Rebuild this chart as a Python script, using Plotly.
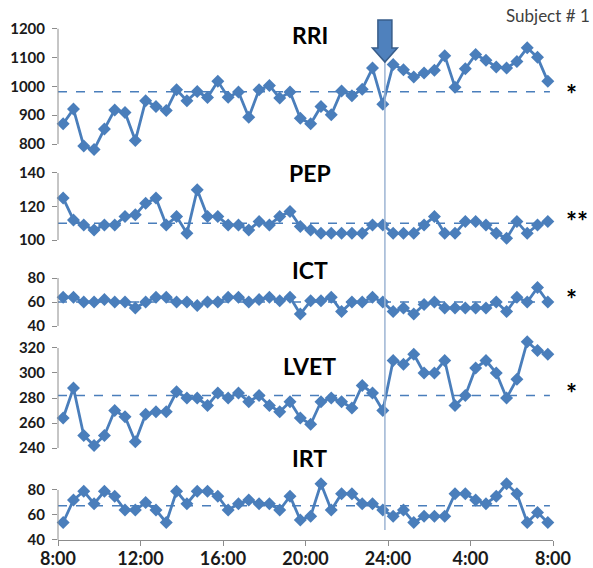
import plotly.graph_objects as go

# ---------------- data ----------------
rri = [870, 921, 793, 781, 852, 918, 909, 812, 950, 930, 916, 988, 950, 982, 961, 1017,
       962, 980, 893, 988, 1003, 959, 980, 889, 870, 930, 901, 984, 967, 990, 1063, 938,
       1075, 1057, 1032, 1046, 1055, 1106, 997, 1061, 1110, 1090, 1067, 1063, 1086, 1133, 1100, 1017]
pep = [125, 112, 109, 106, 109, 109, 114, 115, 122, 125, 109, 114, 104, 130, 114, 114,
       109, 109, 106, 111, 109, 114, 117, 108, 106, 104, 104, 104, 104, 104, 109, 109,
       104, 104, 104, 109, 114, 104, 104, 111, 111, 109, 104, 101, 111, 104, 109, 111]
ict = [64, 64, 60, 60, 62, 60, 60, 55, 60, 64, 64, 60, 60, 57, 60, 60,
       64, 64, 60, 62, 64, 61, 64, 50, 61, 61, 64, 52, 60, 60, 64, 60,
       52, 55, 50, 58, 60, 55, 55, 55, 55, 55, 60, 52, 64, 60, 72, 60]
lvet = [264, 288, 250, 242, 250, 270, 265, 245, 267, 269, 269, 285, 280, 280, 274, 284,
        280, 284, 277, 282, 274, 269, 277, 264, 259, 277, 280, 277, 272, 290, 284, 270,
        310, 307, 315, 300, 300, 310, 274, 282, 304, 310, 300, 280, 295, 325, 318, 315]
irt = [54, 72, 79, 69, 79, 75, 64, 64, 70, 64, 54, 79, 69, 79, 79, 75,
       64, 69, 72, 69, 69, 64, 75, 56, 59, 85, 64, 77, 77, 69, 69, 64,
       59, 64, 54, 59, 59, 59, 77, 77, 72, 69, 75, 85, 77, 54, 62, 54]

series_names = ["RRI", "PEP", "ICT", "LVET", "IRT"]
series_values = [rri, pep, ict, lvet, irt]
reference_means = [981, 110, 60, 282, 67.5]
significance = ["*", "**", "*", "*", ""]
y_tickvals = [[800, 900, 1000, 1100, 1200], [100, 120, 140], [40, 60, 80],
              [240, 260, 280, 300, 320], [40, 60, 80]]

# 48 half-hour slots from 8:00 to 8:00 (hours since midnight of day 1)
times = [8.25 + 0.5 * i for i in range(48)]
x_tickvals = [8, 12, 16, 20, 24, 28, 32]
x_ticktext = ["8:00", "12:00", "16:00", "20:00", "24:00", "4:00", "8:00"]
event_time = 23.85

# ---------------- styling / layout ----------------
BLUE = "#4A7EBB"
AXIS = "#8C8C8C"
FONT = "Lato"

y_ranges = [[770, 1200], [100, 140], [40, 80], [240, 330], [40, 90]]
y_domains = [[0.7448, 0.9837], [0.5769, 0.7058], [0.4115, 0.5038], [0.1769, 0.3933], [0.0, 0.1202]]
title_y = [0.971, 0.706, 0.519, 0.335, 0.158]
star_y = [0.858, 0.614, 0.464, 0.282, 0]

fig = go.Figure()
layout = dict(
    width=593, height=568,
    margin=dict(l=58, r=40, t=20, b=28, autoexpand=False),
    paper_bgcolor="white", plot_bgcolor="white",
    showlegend=False,
    font=dict(family=FONT, color="#1a1a1a"),
)
shapes = []
annotations = []

for k, (name, vals, ref, tv, yr, dom) in enumerate(
        zip(series_names, series_values, reference_means, y_tickvals, y_ranges, y_domains), start=1):
    xa = "x" if k == 1 else f"x{k}"
    ya = "y" if k == 1 else f"y{k}"
    fig.add_trace(go.Scatter(
        x=times, y=vals, xaxis=xa, yaxis=ya, mode="lines+markers",
        line=dict(color=BLUE, width=2.8),
        marker=dict(symbol="diamond", size=10, color=BLUE),
        cliponaxis=False, name=name))
    bottom = (k == 5)
    layout[f"xaxis{k}"] = dict(
        domain=[0, 1], range=[8, 32], anchor=ya, automargin=False,
        showgrid=False, zeroline=False,
        showline=bottom, linecolor=AXIS, linewidth=1,
        ticks="outside" if bottom else "", ticklen=5, tickcolor=AXIS,
        tickvals=x_tickvals, ticktext=x_ticktext,
        showticklabels=bottom,
        tickfont=dict(family=FONT, size=18, color="#1a1a1a", weight="bold"),
        ticklabelstandoff=-3,
        matches=None if k == 1 else "x",
    )
    layout[f"yaxis{k}"] = dict(
        domain=dom, range=yr, anchor=xa, automargin=False,
        showgrid=False, zeroline=False, showline=False,
        ticks="outside", ticklen=5, tickcolor=AXIS, tickvals=tv,
        tickfont=dict(family=FONT, size=15, color="#1a1a1a", weight="bold"),
        ticklabelstandoff=4,
    )
    shapes.append(dict(type="line", xref=f"{xa} domain", yref=ya,
                       x0=0, x1=0, y0=tv[0], y1=tv[-1],
                       line=dict(color=AXIS, width=1)))
    shapes.append(dict(type="line", xref=xa, yref=ya, x0=8, x1=31.85, y0=ref, y1=ref,
                       line=dict(color=BLUE, width=1.5, dash="dash"), layer="below"))
    annotations.append(dict(text=name, xref="paper", yref="paper", x=0.509, y=title_y[k - 1],
                            showarrow=False, xanchor="center", yanchor="middle",
                            font=dict(family=FONT, size=23, color="#000000", weight="bold")))
    if significance[k - 1]:
        annotations.append(dict(text=significance[k - 1], xref="paper", yref="paper",
                                x=1.022, y=star_y[k - 1], showarrow=False,
                                xanchor="left", yanchor="middle",
                                font=dict(family=FONT, size=26, color="#000000", weight="bold")))

shapes.append(dict(type="line", xref="x5", yref="paper", x0=event_time, x1=event_time,
                   y0=0.019, y1=0.92, line=dict(color="#9DB5D3", width=1.5)))

cx = (event_time - 8) / 24
hs = 7 / 495
hh = 12.5 / 495
top, neck, tip = 1.0, 0.946, 0.919
path = (f"M {cx-hs} {top} L {cx+hs} {top} L {cx+hs} {neck} L {cx+hh} {neck} "
        f"L {cx} {tip} L {cx-hh} {neck} L {cx-hs} {neck} Z")
shapes.append(dict(type="path", xref="paper", yref="paper", path=path,
                   fillcolor="#4F81BD", line=dict(color="#385D8A", width=1.5)))

annotations.append(dict(text="Subject # 1", xref="paper", yref="paper", x=1.079, y=1.008,
                        showarrow=False, xanchor="right", yanchor="middle",
                        font=dict(family=FONT, size=17, color="#404040")))

layout["shapes"] = shapes
layout["annotations"] = annotations
fig.update_layout(**layout)
fig.write_html("out.html", config={"displayModeBar": False},
               post_script="document.body.style.margin='0';")
